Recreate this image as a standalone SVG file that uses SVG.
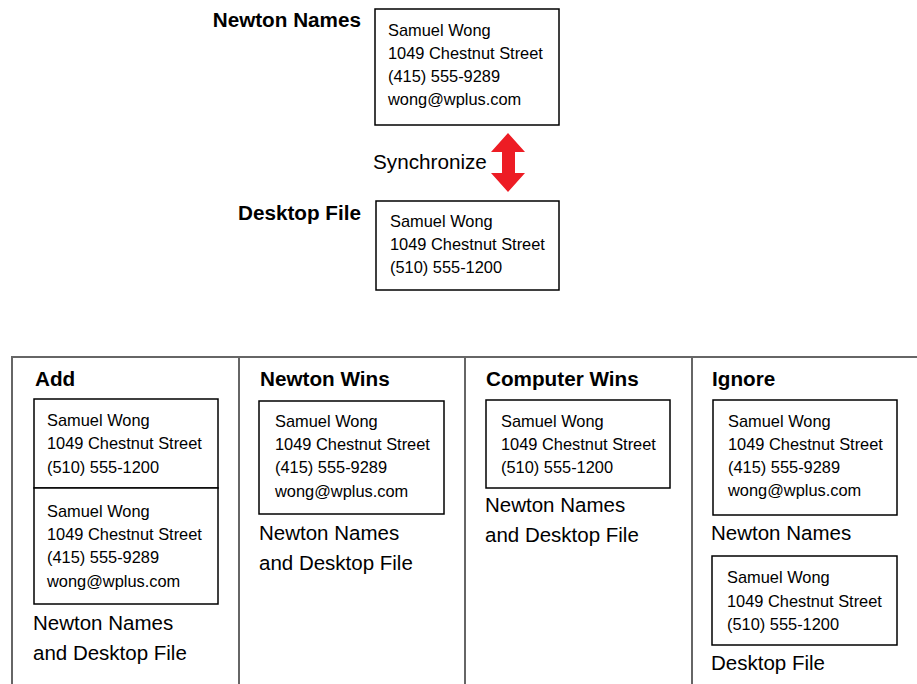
<svg xmlns="http://www.w3.org/2000/svg" width="917" height="684" viewBox="0 0 917 684">
<style>
text{font-family:"Liberation Sans",Arial,sans-serif;fill:#000}
.h{font-size:20.7px;font-weight:bold}
.c{font-size:16.4px}
.l{font-size:20.5px}
.box{fill:#fff;stroke:#000;stroke-width:1.5}
.div{stroke:#666;stroke-width:2;fill:none}
</style>
<rect width="917" height="684" fill="#fff"/>
<g id="top-newton">
<text class="h" x="361" y="27" text-anchor="end">Newton Names</text>
<rect class="box" x="375" y="9" width="184" height="116"/>
<text class="c" x="388" y="36">Samuel Wong</text>
<text class="c" x="388" y="59">1049 Chestnut Street</text>
<text class="c" x="388" y="82">(415) 555-9289</text>
<text class="c" x="388" y="105">wong@wplus.com</text>
</g>
<g id="connectors">
<text class="l" x="373" y="169" style="font-size:20.7px">Synchronize</text>
<polygon fill="#ED1C24" points="508,133 525,152 515,152 515,173 525,173 508,192 491,173 502,173 502,152 491,152"/>
</g>
<g id="top-desktop">
<text class="h" x="361" y="220" text-anchor="end">Desktop File</text>
<rect class="box" x="376" y="201" width="183" height="89"/>
<text class="c" x="390" y="227">Samuel Wong</text>
<text class="c" x="390" y="250">1049 Chestnut Street</text>
<text class="c" x="390" y="273">(510) 555-1200</text>
</g>
<g id="table">
<path class="div" d="M12,684 V357 H917 M239,357 V684 M465,357 V684 M692,357 V684"/>
</g>
<g id="add">
<text class="h" x="35" y="386">Add</text>
<rect class="box" x="34" y="399" width="184" height="89"/>
<rect class="box" x="34" y="488" width="184" height="116"/>
<text class="c" x="47" y="426">Samuel Wong</text>
<text class="c" x="47" y="449">1049 Chestnut Street</text>
<text class="c" x="47" y="473">(510) 555-1200</text>
<text class="c" x="47" y="517">Samuel Wong</text>
<text class="c" x="47" y="540">1049 Chestnut Street</text>
<text class="c" x="47" y="563">(415) 555-9289</text>
<text class="c" x="47" y="587">wong@wplus.com</text>
<text class="l" x="33" y="630">Newton Names</text>
<text class="l" x="33" y="660">and Desktop File</text>
</g>
<g id="newton-wins">
<text class="h" x="260" y="386">Newton Wins</text>
<rect class="box" x="259" y="401" width="185" height="113"/>
<text class="c" x="275" y="427">Samuel Wong</text>
<text class="c" x="275" y="450">1049 Chestnut Street</text>
<text class="c" x="275" y="473">(415) 555-9289</text>
<text class="c" x="275" y="497">wong@wplus.com</text>
<text class="l" x="259" y="540">Newton Names</text>
<text class="l" x="259" y="570">and Desktop File</text>
</g>
<g id="computer-wins">
<text class="h" x="486" y="386">Computer Wins</text>
<rect class="box" x="486" y="400" width="184" height="88"/>
<text class="c" x="501" y="427">Samuel Wong</text>
<text class="c" x="501" y="450">1049 Chestnut Street</text>
<text class="c" x="501" y="473">(510) 555-1200</text>
<text class="l" x="485" y="512">Newton Names</text>
<text class="l" x="485" y="542">and Desktop File</text>
</g>
<g id="ignore">
<text class="h" x="712" y="386">Ignore</text>
<rect class="box" x="713" y="400" width="184" height="115"/>
<text class="c" x="728" y="427">Samuel Wong</text>
<text class="c" x="728" y="450">1049 Chestnut Street</text>
<text class="c" x="728" y="473">(415) 555-9289</text>
<text class="c" x="728" y="496">wong@wplus.com</text>
<text class="l" x="711" y="540">Newton Names</text>
<rect class="box" x="712" y="556" width="185" height="89"/>
<text class="c" x="727" y="583">Samuel Wong</text>
<text class="c" x="727" y="607">1049 Chestnut Street</text>
<text class="c" x="727" y="630">(510) 555-1200</text>
<text class="l" x="711" y="670">Desktop File</text>
</g>
</svg>
